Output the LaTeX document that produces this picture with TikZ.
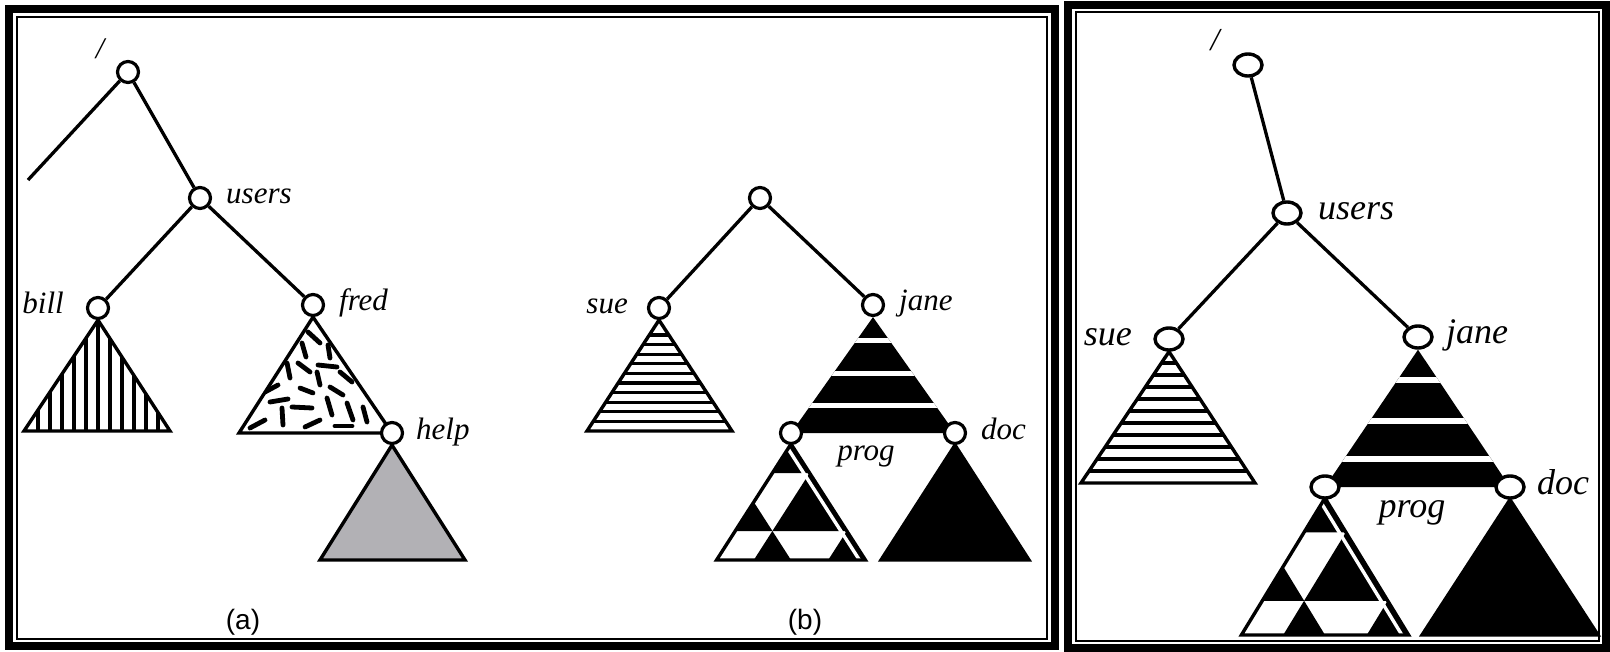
\documentclass[tikz,border=0pt]{standalone}
\usepackage{fontspec}
\usetikzlibrary{shapes.geometric}
\newfontfamily\capfont{Liberation Sans}
\newfontfamily\dirserif{Liberation Serif}
\definecolor{helpgray}{RGB}{178,177,181}
\pgfdeclarelayer{bg}
\pgfsetlayers{bg,main}
\newcommand{\dirfont}{\dirserif\fontsize{31}{37}\selectfont\itshape}
\newcommand{\bigdirfont}{\dirserif\fontsize{36}{43}\selectfont\itshape}
\newcommand{\progtri}[4]{%
    \begin{scope}[shift={(#1,#2)},x=#3pt,y=-#4pt]
        \begin{scope}
            \clip (0,0) -- (-4,4) -- (4,4) -- cycle;
            \fill (0,0) -- (-1,1) -- (1,1) -- cycle;
            \fill (1,1) -- (-1,3) -- (3,3) -- cycle;
            \fill (-2,2) -- (-3,3) -- (-1,3) -- cycle;
            \fill (-1,3) -- (-2,4) -- (0,4) -- cycle;
            \fill (3,3) -- (2,4) -- (4,4) -- cycle;
            \draw[white,line width=3.4pt] (-0.32,0) -- (3.68,4);
        \end{scope}
        \draw[tri] (0,0) -- (-4,4) -- (4,4) -- cycle;
    \end{scope}}

\begin{document}
\begin{tikzpicture}[x=1pt,y=-1pt]
                        \tikzstyle{vtx}=[circle,draw,fill=white,line width=3.2pt,inner sep=0pt,minimum size=21pt]
                        \tikzstyle{cvtx}=[ellipse,draw,fill=white,line width=3.4pt,inner sep=0pt,minimum width=28pt,minimum height=22pt]
                        \tikzstyle{link}=[line width=3.3pt]
                        \tikzstyle{tri}=[line width=3.4pt]
                        \tikzstyle{bit}=[line width=4.8pt,line cap=round]
                        \tikzstyle{stripe}=[line width=3.2pt]
                        \tikzstyle{dirname}=[font=\dirfont,inner sep=0pt]
                        \tikzstyle{bigdirname}=[font=\bigdirfont,inner sep=0pt]
                        \tikzstyle{panelbox}=[line width=8pt]
                        \tikzstyle{thinbox}=[line width=1.6pt]
                        \useasboundingbox (0,0) rectangle (1610,652);
                        \begin{pgfonlayer}{bg}
                            \fill[white] (0,0) rectangle (1610,652);
                        \end{pgfonlayer}
                        \draw[panelbox] (9,9) rectangle (1055,646);
                        \draw[thinbox] (17,17) rectangle (1047,639);
                        \draw[panelbox] (1068,5) rectangle (1606,648);
                        \draw[thinbox] (1076,12) rectangle (1599,641);

                        \node[vtx] (aroot) at (128,72) {};
                        \node[font=\dirserif\fontsize{30}{36}\selectfont\itshape,inner sep=0pt] (aslash) at (100,49) {/};
                        \coordinate (astub) at (28,180);
                        \node[vtx] (ausers) at (200,198) {};
                        \node[vtx] (abill) at (98,308) {};
                        \node[vtx] (afred) at (313,305) {};
                        \node[vtx] (ahelp) at (392,433) {};
                        \node[dirname,anchor=base west] (auserslbl) at (226,204) {users};
                        \node[dirname,anchor=base east] (abilllbl) at (64,314) {bill};
                        \node[dirname,anchor=base west] (afredlbl) at (339,311) {fred};
                        \node[dirname,anchor=base west] (ahelplbl) at (416,439) {help};
                        \draw[link] (aroot) -- (astub);
                        \draw[link] (aroot) -- (ausers);
                        \draw[link] (ausers) -- (abill);
                        \draw[link] (ausers) -- (afred);
                        \begin{pgfonlayer}{bg}
                            \begin{scope}
                                \clip (abill.south) -- (24,431) -- (170,431) -- cycle;
                                \foreach \k in {-5,...,5}
                                    \draw[stripe] ({98+12*\k},300) -- ({98+12*\k},440);
                            \end{scope}
                            \draw[tri] (abill.south) -- (24,431) -- (170,431) -- cycle;
                            \begin{scope}
                                \clip (afred.south) -- (239,433) -- (ahelp.center) -- cycle;
                                \foreach \xa/\ya/\xb/\yb in {308/332/320/343, 302/343/306/357, 328/345/330/358,
                                        287/363/290/378, 298/363/310/372, 318/365/337/367, 317/372/320/385,
                                        340/372/352/382, 300/388/313/393, 330/387/343/395, 265/392/278/385,
                                        270/402/288/399, 292/407/312/408, 282/408/283/425, 327/398/332/415,
                                        347/403/353/420, 250/428/265/420, 305/427/320/420, 335/426/352/426,
                                        363/407/367/422}
                                    \draw[bit] (\xa,\ya) -- (\xb,\yb);
                            \end{scope}
                            \draw[tri] (afred.south) -- (239,433) -- (ahelp.center) -- cycle;
                            \draw[tri,fill=helpgray] (ahelp.south) -- (320,560) -- (465,560) -- cycle;
                        \end{pgfonlayer}
                        \node[font=\capfont\fontsize{28}{33}\selectfont,inner sep=0pt] (acap) at (243,622) {(a)};

                        \node[vtx] (broot) at (760,198) {};
                        \node[vtx] (bsue) at (659,308) {};
                        \node[vtx] (bjane) at (873,305) {};
                        \node[vtx] (bprog) at (791,433) {};
                        \node[vtx] (bdoc) at (955,433) {};
                        \node[dirname,anchor=base east] (bsuelbl) at (628,314) {sue};
                        \node[dirname,anchor=base west] (bjanelbl) at (899,311) {jane};
                        \node[dirname,anchor=base] (bproglbl) at (866,460) {prog};
                        \node[dirname,anchor=base west] (bdoclbl) at (981,439) {doc};
                        \draw[link] (broot) -- (bsue);
                        \draw[link] (broot) -- (bjane);
                        \begin{pgfonlayer}{bg}
                            \begin{scope}
                                \clip (bsue.south) -- (587,431) -- (732,431) -- cycle;
                                \foreach \k in {1,...,10}
                                    \draw[stripe] (580,{431-9.6*\k}) -- (740,{431-9.6*\k});
                            \end{scope}
                            \draw[tri] (bsue.south) -- (587,431) -- (732,431) -- cycle;
                            \begin{scope}
                                \clip (bjane.south) -- (bprog.center) -- (bdoc.center) -- cycle;
                                \fill (700,300) rectangle (1000,440);
                                \foreach \yy in {341,374,406}
                                    \draw[white,line width=5pt] (700,\yy) -- (1000,\yy);
                            \end{scope}
                            \progtri{791}{444}{18.6}{29}
                            \filldraw[tri] (bdoc.south) -- (881,560) -- (1029,560) -- cycle;
                        \end{pgfonlayer}
                        \node[font=\capfont\fontsize{28}{33}\selectfont,inner sep=0pt] (bcap) at (805,622) {(b)};

                        \node[cvtx] (croot) at (1248,65) {};
                        \node[font=\dirserif\fontsize{32}{38}\selectfont\itshape,inner sep=0pt] (cslash) at (1215,40) {/};
                        \node[cvtx] (cusers) at (1287,213) {};
                        \node[cvtx] (csue) at (1169,339) {};
                        \node[cvtx] (cjane) at (1418,337) {};
                        \node[cvtx] (cprog) at (1325,487) {};
                        \node[cvtx] (cdoc) at (1510,487) {};
                        \node[bigdirname,anchor=base west] (cuserslbl) at (1318,220) {users};
                        \node[bigdirname,anchor=base east] (csuelbl) at (1132,346) {sue};
                        \node[bigdirname,anchor=base west] (cjanelbl) at (1446,344) {jane};
                        \node[bigdirname,anchor=base] (cproglbl) at (1412,517) {prog};
                        \node[bigdirname,anchor=base west] (cdoclbl) at (1537,494) {doc};
                        \draw[link] (croot) -- (cusers);
                        \draw[link] (cusers) -- (csue);
                        \draw[link] (cusers) -- (cjane);
                        \begin{pgfonlayer}{bg}
                            \begin{scope}
                                \clip (csue.south) -- (1081,483) -- (1255,483) -- cycle;
                                \foreach \k in {1,...,10}
                                    \draw[stripe] (1070,{483-12*\k}) -- (1265,{483-12*\k});
                            \end{scope}
                            \draw[tri] (csue.south) -- (1081,483) -- (1255,483) -- cycle;
                            \begin{scope}
                                \clip (cjane.south) -- (cprog.center) -- (cdoc.center) -- cycle;
                                \fill (1300,330) rectangle (1530,495);
                                \foreach \yy in {380,421,459}
                                    \draw[white,line width=6pt] (1300,\yy) -- (1530,\yy);
                            \end{scope}
                            \progtri{1325}{498}{20.9}{34.25}
                            \filldraw[tri] (cdoc.south) -- (1422,635) -- (1598,635) -- cycle;
                        \end{pgfonlayer}
                    \end{tikzpicture}
\end{document}
